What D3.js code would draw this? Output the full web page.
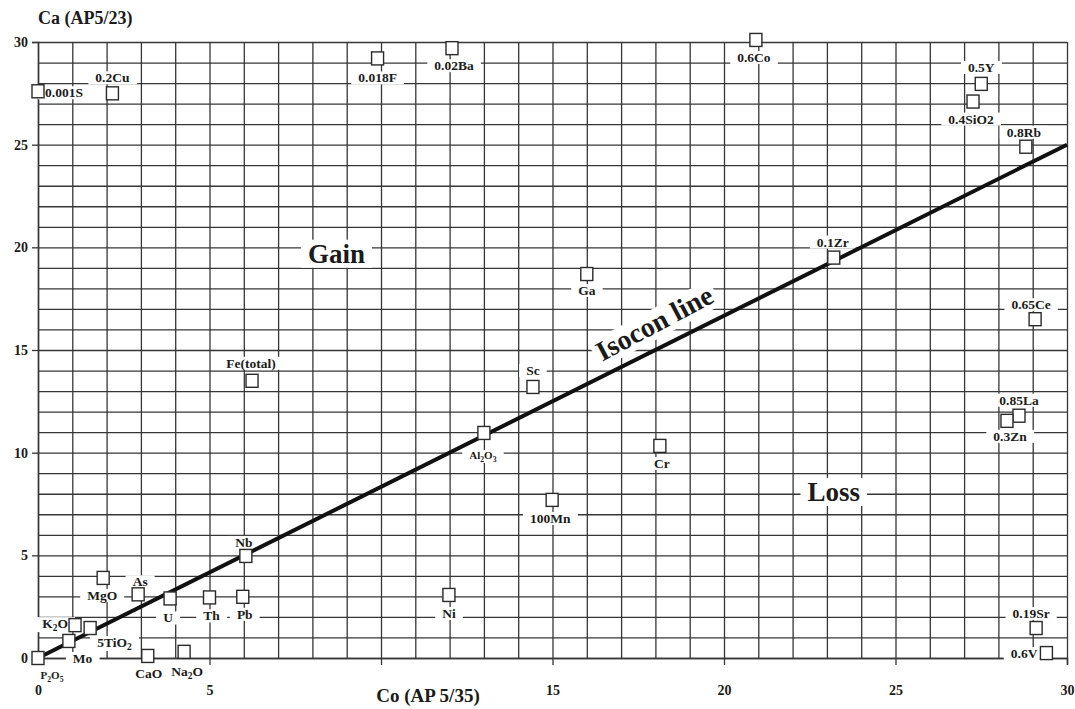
<!DOCTYPE html>
<html>
<head>
<meta charset="utf-8">
<script src="https://d3js.org/d3.v7.min.js"></script>
<style>
  body { margin: 0; background: #fff; }
  svg { display: block; font-family: "Liberation Serif", "DejaVu Serif", serif; font-weight: bold; }
</style>
</head>
<body>
<svg id="chart" width="1075" height="709"></svg>
<script>
// element names, Co (x) and Ca (y) values
var elements = ["P2O5", "Mo", "K2O", "5TiO2", "MgO", "As", "U", "Th", "Pb", "Nb",
                "CaO", "Na2O", "Ni", "0.19Sr", "0.6V", "0.018F", "0.02Ba", "0.6Co",
                "0.5Y", "0.4SiO2", "0.8Rb", "0.001S", "0.2Cu", "0.1Zr", "Ga",
                "Fe(total)", "Sc", "Al2O3", "Cr", "100Mn", "0.65Ce", "0.85La", "0.3Zn"];
var coValues = [0.0, 0.9, 1.08, 1.52, 1.9, 2.92, 3.85, 5.0, 5.97, 6.06,
                3.2, 4.26, 11.98, 29.1, 29.4, 9.9, 12.07, 20.93,
                27.5, 27.26, 28.8, 0.0, 2.17, 23.2, 16.0,
                6.24, 14.43, 13.0, 18.13, 14.99, 29.07, 28.6, 28.25];
var caValues = [0.0, 0.83, 1.6, 1.46, 3.9, 3.1, 2.9, 2.95, 2.98, 4.97,
                0.1, 0.3, 3.07, 1.46, 0.24, 29.2, 29.7, 30.1,
                27.96, 27.1, 24.9, 27.6, 27.5, 19.5, 18.7,
                13.5, 13.2, 10.96, 10.33, 7.7, 16.5, 11.8, 11.55];
// label text, "_n" marks a subscript digit
var labelText = ["P_2O_5", "Mo", "K_2O", "5TiO_2", "MgO", "As", "U", "Th", "Pb", "Nb",
                 "CaO", "Na_2O", "Ni", "0.19Sr", "0.6V", "0.018F", "0.02Ba", "0.6Co",
                 "0.5Y", "0.4SiO2", "0.8Rb", "0.001S", "0.2Cu", "0.1Zr", "Ga",
                 "Fe(total)", "Sc", "Al_2O_3", "Cr", "100Mn", "0.65Ce", "0.85La", "0.3Zn"];

var xTicks = [0, 5, 10, 15, 20, 25, 30],
    xTickLabels = ["0", "5", "", "15", "20", "25", "30"],   // "10" is hidden under the title in the scan
    yTicks = [0, 5, 10, 15, 20, 25, 30];
var isocon = [{co: 0, ca: 0}, {co: 30, ca: 25}];
var xTitle = "Co (AP 5/35)",
    yTitle = "Ca (AP5/23)";

// label placement relative to each square: [dx, dy, anchor, small]
var labelPos = [
    [14, 21, "middle", 1], [4, 22, "start"], [-7, 3, "end"], [7, 19, "start"],
    [-1, 22, "middle"], [2, -8, "middle"], [-2, 24, "middle"], [2, 23, "middle"],
    [2, 22, "middle"], [-2, -9, "middle"], [1, 22, "middle"], [3, 24, "middle"],
    [0, 23, "middle"], [-5, -10, "middle"], [-9, 5, "end"], [0, 24, "middle"],
    [2, 22, "middle"], [-2, 22, "middle"], [0, -12, "middle"], [-2, 22, "middle"],
    [-2, -10, "middle"], [7, 6, "start"], [0, -11, "middle"], [-1, -11, "middle"],
    [0, 21, "middle"], [-1, -13, "middle"], [0, -12, "middle"], [-1, 26, "middle", 1],
    [2, 22, "middle"], [-2, 23, "middle"], [-4, -10, "middle"], [0, -11, "middle"],
    [3, 20, "middle"]
];

var svg = d3.select("#chart");
var plotL = 38, plotR = 1067, plotT = 42, plotB = 658;

var x = d3.scaleLinear().domain([0, 30]).range([plotL, plotR]);
var y = d3.scaleLinear().domain([0, 30]).range([plotB, plotT]);

var gridColor = "#363636",
    ink = "#1b1b1b";

// grid (every unit)
svg.append("g")
    .attr("transform", "translate(0," + plotB + ")")
    .call(d3.axisBottom(x).tickValues(d3.range(0, 31)).tickSize(-(plotB - plotT)).tickFormat(""))
    .call(g => g.select(".domain").remove())
    .selectAll("line").attr("stroke", gridColor).attr("stroke-width", 1.3);

svg.append("g")
    .attr("transform", "translate(" + plotL + ",0)")
    .call(d3.axisLeft(y).tickValues(d3.range(0, 31)).tickSize(-(plotR - plotL)).tickFormat(""))
    .call(g => g.select(".domain").remove())
    .selectAll("line").attr("stroke", gridColor).attr("stroke-width", 1.3);

// axes with ticks at every 5
var xAxis = svg.append("g")
    .attr("transform", "translate(0," + plotB + ")")
    .call(d3.axisBottom(x).tickValues(xTicks).tickSize(7).tickPadding(20)
        .tickFormat((d, i) => xTickLabels[i]));
xAxis.attr("font-size", null).attr("font-family", null);
xAxis.select(".domain").attr("stroke", gridColor).attr("stroke-width", 1.5);
xAxis.selectAll("line").attr("stroke", gridColor).attr("stroke-width", 1.3);
xAxis.selectAll("text")
    .attr("fill", ink).style("font-size", "14px");

var yAxis = svg.append("g")
    .attr("transform", "translate(" + plotL + ",0)")
    .call(d3.axisLeft(y).tickValues(yTicks).tickSize(6).tickPadding(4).tickFormat(d3.format("d")));
yAxis.attr("font-size", null).attr("font-family", null);
yAxis.select(".domain").attr("stroke", gridColor).attr("stroke-width", 1.5);
yAxis.selectAll("line").attr("stroke", gridColor).attr("stroke-width", 1.3);
yAxis.selectAll("text")
    .attr("fill", ink).style("font-size", "14px");

// axis titles
svg.append("text")
    .attr("x", 38).attr("y", 24)
    .attr("fill", ink).style("font-size", "18px")
    .text(yTitle);

svg.append("text")
    .attr("x", 428).attr("y", 702)
    .attr("text-anchor", "middle")
    .attr("fill", ink).style("font-size", "19px")
    .text(xTitle);

var bgLayer = svg.append("g");
var lineLayer = svg.append("g");
var markLayer = svg.append("g");
var textLayer = svg.append("g");

// write a label with subscripts, put a white patch behind it
function addLabel(str, px, py, anchor, size) {
    var t = textLayer.append("text")
        .attr("x", px).attr("y", py)
        .attr("text-anchor", anchor)
        .attr("fill", ink)
        .style("font-size", size + "px");
    var parts = str.split(/_(\d)/);
    var shift = 0;
    parts.forEach(function (p, i) {
        if (p === "") return;
        var sub = i % 2 === 1;
        var dy = sub ? 3 - shift : -shift;
        shift = sub ? 3 : 0;
        t.append("tspan")
            .attr("dy", dy)
            .style("font-size", sub ? (size * 0.7) + "px" : null)
            .text(p);
    });
    var b = t.node().getBBox();
    bgLayer.append("rect")
        .attr("x", b.x - 7).attr("y", b.y + 1)
        .attr("width", b.width + 14).attr("height", b.height - 2)
        .attr("fill", "#fff");
    return t;
}

// isocon line
lineLayer.append("path")
    .datum(isocon)
    .attr("d", d3.line().x(d => x(d.co)).y(d => y(d.ca)))
    .attr("stroke", "#111")
    .attr("stroke-width", 4)
    .attr("fill", "none");

var angle = Math.atan2(y(isocon[1].ca) - y(isocon[0].ca), x(isocon[1].co) - x(isocon[0].co)) * 180 / Math.PI;
var isoG = svg.insert("g", () => lineLayer.node())
    .attr("transform", "translate(" + x(18.1) + "," + y(15.9) + ") rotate(" + (angle - 1.5) + ")");
var isoBg = isoG.append("rect").attr("fill", "#fff");
var isoText = isoG.append("text")
    .attr("text-anchor", "middle")
    .attr("fill", ink)
    .style("font-size", "28px")
    .text("Isocon line");
var ib = isoText.node().getBBox();
isoBg.attr("x", ib.x - 4).attr("y", ib.y + 2).attr("width", ib.width + 8).attr("height", ib.height - 2);

// region labels
addLabel("Gain", x(8.7), y(19.25), "middle", 27);
addLabel("Loss", x(23.2), y(7.65), "middle", 27);

// squares and element labels
var pts = elements.map((e, i) => ({name: e, co: coValues[i], ca: caValues[i], label: labelText[i], pos: labelPos[i]}));

markLayer.selectAll("rect")
    .data(pts)
    .join("rect")
    .attr("x", d => x(d.co) - 6)
    .attr("y", d => y(d.ca) - 6.5)
    .attr("width", 12)
    .attr("height", 13)
    .attr("fill", "#fff")
    .attr("stroke", "#2a2a2a")
    .attr("stroke-width", 1.4);

pts.forEach(function (d) {
    var p = d.pos;
    addLabel(d.label, x(d.co) + p[0], y(d.ca) + p[1], p[2], p[3] ? 11 : 13.5);
});
</script>
</body>
</html>
